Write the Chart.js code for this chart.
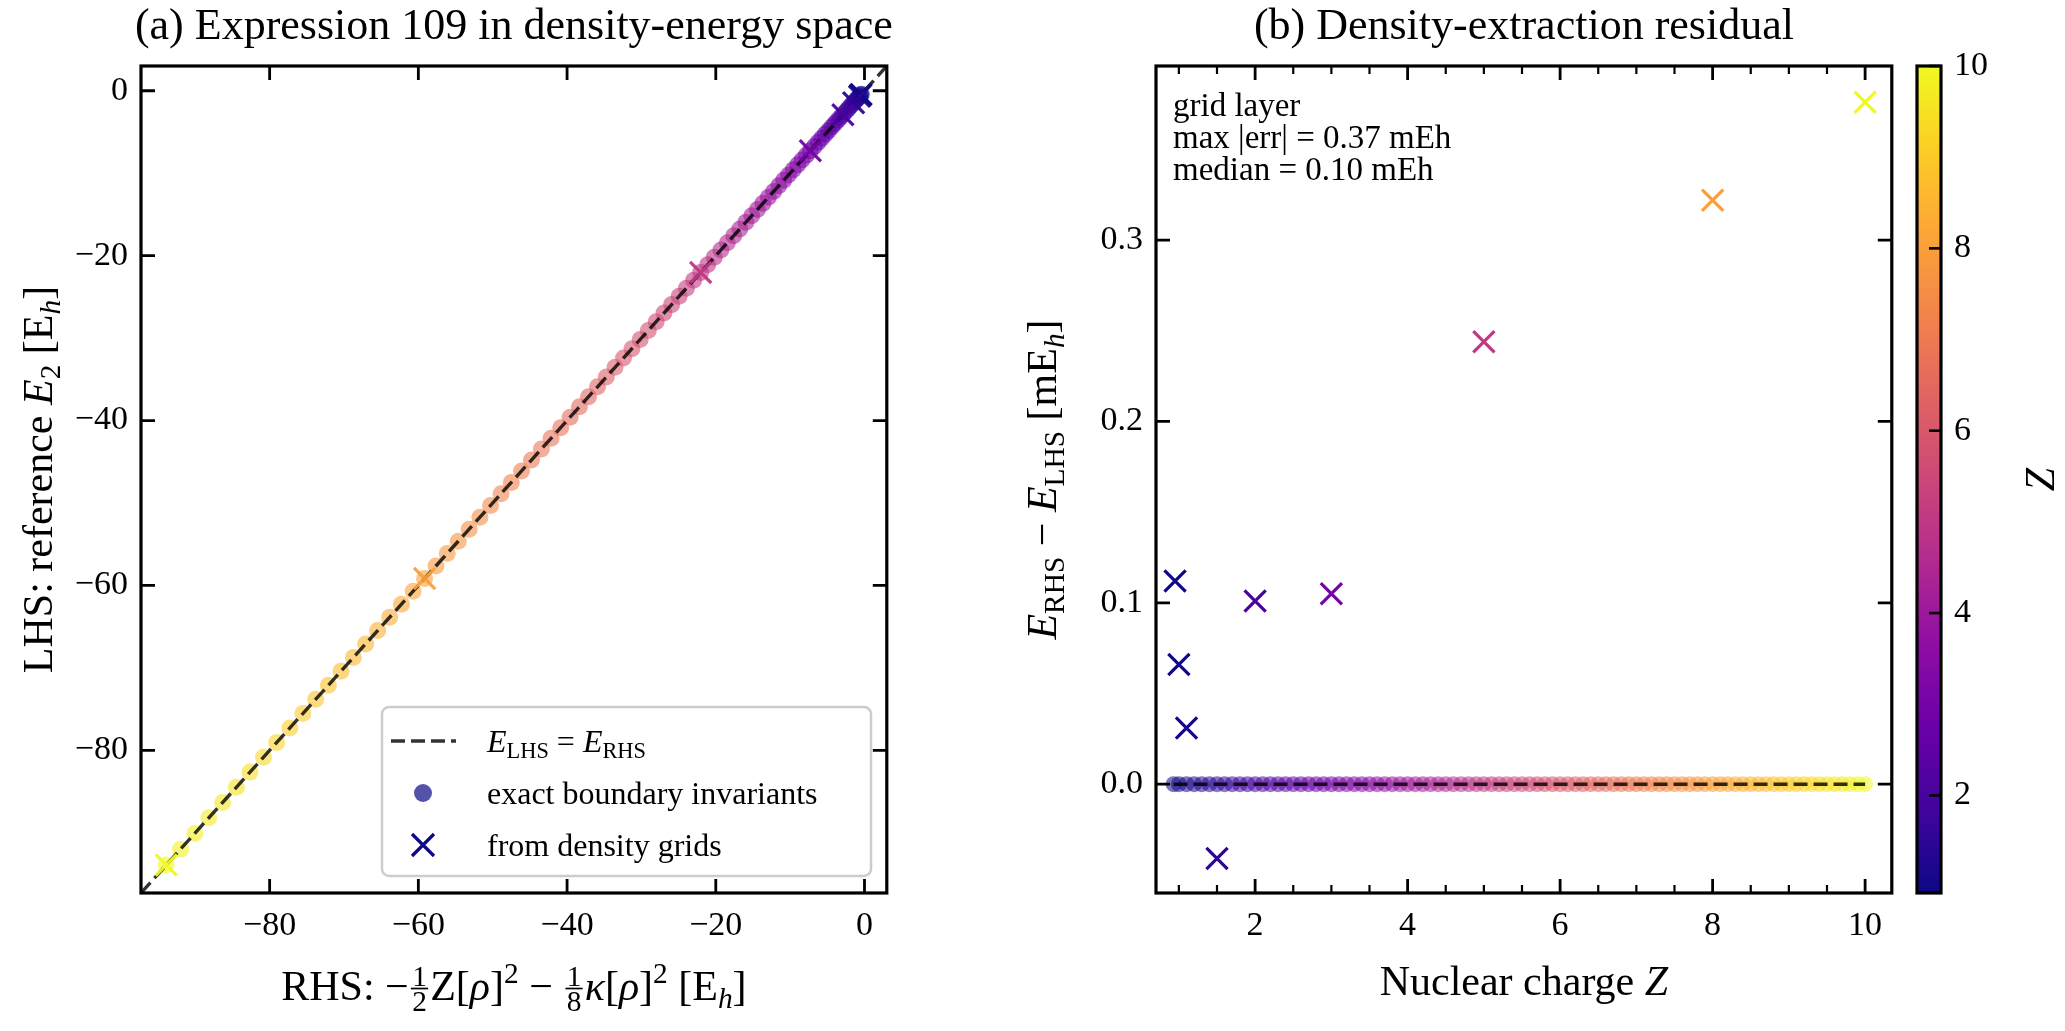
<!DOCTYPE html>
<html>
<head>
<meta charset="utf-8">
<script src="https://cdn.jsdelivr.net/npm/chart.js@4.4.1/dist/chart.umd.min.js"></script>
<style>
  html, body { margin: 0; padding: 0; background: #fff; }
  #wrap { position: relative; width: 2065px; height: 1031px; overflow: hidden; }
  #wrap canvas { position: absolute; top: 0; }
</style>
</head>
<body>
<div id="wrap">
  <canvas id="cA" width="905" height="1031" style="left:0px"></canvas>
  <canvas id="cB" width="1005" height="1031" style="left:905px"></canvas>
  <canvas id="cC" width="155" height="1031" style="left:1910px"></canvas>
</div>
<script>
// exact boundary invariants: nuclear charge and energy (Eh)
const exactZ = [0.93, 1.0, 1.1, 1.2, 1.3, 1.4, 1.5, 1.6, 1.7, 1.8, 1.9,
  2.0, 2.1, 2.2, 2.3, 2.4, 2.5, 2.6, 2.7, 2.8, 2.9,
  3.0, 3.1, 3.2, 3.3, 3.4, 3.5, 3.6, 3.7, 3.8, 3.9,
  4.0, 4.1, 4.2, 4.3, 4.4, 4.5, 4.6, 4.7, 4.8, 4.9,
  5.0, 5.1, 5.2, 5.3, 5.4, 5.5, 5.6, 5.7, 5.8, 5.9,
  6.0, 6.1, 6.2, 6.3, 6.4, 6.5, 6.6, 6.7, 6.8, 6.9,
  7.0, 7.1, 7.2, 7.3, 7.4, 7.5, 7.6, 7.7, 7.8, 7.9,
  8.0, 8.1, 8.2, 8.3, 8.4, 8.5, 8.6, 8.7, 8.8, 8.9,
  9.0, 9.1, 9.2, 9.3, 9.4, 9.5, 9.6, 9.7, 9.8, 9.9, 10.0];
const exactE = [-0.43, -0.53, -0.67, -0.84, -1.03, -1.24, -1.46, -1.71, -1.98, -2.27, -2.58,
  -2.90, -3.25, -3.62, -4.01, -4.41, -4.84, -5.29, -5.76, -6.24, -6.75,
  -7.28, -7.83, -8.40, -8.98, -9.59, -10.22, -10.87, -11.53, -12.22, -12.93,
  -13.66, -14.40, -15.17, -15.96, -16.77, -17.59, -18.44, -19.31, -20.20, -21.10,
  -22.03, -22.98, -23.95, -24.93, -25.94, -26.97, -28.02, -29.08, -30.17, -31.28,
  -32.41, -33.55, -34.72, -35.91, -37.12, -38.34, -39.59, -40.86, -42.15, -43.45,
  -44.78, -46.13, -47.50, -48.88, -50.29, -51.72, -53.17, -54.63, -56.12, -57.63,
  -59.16, -60.70, -62.27, -63.86, -65.47, -67.09, -68.74, -70.41, -72.10, -73.80,
  -75.53, -77.28, -79.05, -80.83, -82.64, -84.47, -86.32, -88.18, -90.07, -91.98, -93.91];

// density-grid points
const gridZ = [0.95, 1.0, 1.1, 1.5, 2, 3, 5, 8, 10];
const gridLHS = [-0.457, -0.528, -0.674, -1.465, -2.904, -7.280, -22.031, -59.157, -93.907];
const gridResid = [0.112, 0.066, 0.031, -0.041, 0.101, 0.105, 0.244, 0.322, 0.376]; // mEh

// axes
const energyTicks = [-80, -60, -40, -20, 0];
const energyRange = [-97.3, 3.0];
const zTicks = [2, 4, 6, 8, 10];
const zRange = [0.70, 10.35];
const residTicks = [0.0, 0.1, 0.2, 0.3];
const residRange = [-0.060, 0.396];
const cbarTicks = [2, 4, 6, 8, 10];
const cbarRange = [0.93, 10];

const SERIF = '"Liberation Serif", "Times New Roman", serif';
const PLASMA = ['#0d0887', '#41049d', '#6a00a8', '#8f0da4', '#b12a90', '#cc4778',
  '#e16462', '#f2844b', '#fca636', '#fcce25', '#f0f921'];
const FS = { title: 44, label: 42, tick: 34, legend: 32, note: 33 };

function hexRgb(h) {
  return [parseInt(h.slice(1, 3), 16), parseInt(h.slice(3, 5), 16), parseInt(h.slice(5, 7), 16)];
}
function plasma(z, alpha) {
  let t = (z - cbarRange[0]) / (cbarRange[1] - cbarRange[0]);
  t = Math.max(0, Math.min(1, t)) * (PLASMA.length - 1);
  const i = Math.min(Math.floor(t), PLASMA.length - 2), f = t - i;
  const a = hexRgb(PLASMA[i]), b = hexRgb(PLASMA[i + 1]);
  const c = a.map((v, k) => Math.round(v + (b[k] - v) * f));
  return 'rgba(' + c.join(',') + ',' + (alpha == null ? 1 : alpha) + ')';
}
const minus = v => String(v).replace('-', '\u2212');

// mathtext-ish rich text: segments {t, it, sub, sup, frac}
function segFont(size, s) {
  return (s.it ? 'italic ' : '') + size.toFixed(1) + 'px ' + SERIF;
}
function segWidth(ctx, s, size) {
  if (s.frac) {
    ctx.font = segFont(size * 0.7, {});
    return Math.max(ctx.measureText(s.frac[0]).width, ctx.measureText(s.frac[1]).width) + size * 0.16;
  }
  ctx.font = segFont(s.sub || s.sup ? size * 0.7 : size, s);
  return ctx.measureText(s.t).width;
}
function drawRich(ctx, segs, x, y, size, align, rot) {
  ctx.save();
  ctx.translate(x, y);
  if (rot) ctx.rotate(rot);
  ctx.fillStyle = '#000';
  ctx.strokeStyle = '#000';
  ctx.textAlign = 'left';
  ctx.textBaseline = 'alphabetic';
  const ws = segs.map(s => segWidth(ctx, s, size));
  const total = ws.reduce((a, b) => a + b, 0);
  let cx = align === 'left' ? 0 : -total / 2;
  const base = size * 0.33;
  segs.forEach((s, i) => {
    if (s.frac) {
      const bar = base - size * 0.27;
      ctx.font = segFont(size * 0.7, {});
      ctx.textAlign = 'center';
      ctx.fillText(s.frac[0], cx + ws[i] / 2, bar - size * 0.07);
      ctx.fillText(s.frac[1], cx + ws[i] / 2, bar + size * 0.07 + size * 0.7 * 0.68);
      ctx.textAlign = 'left';
      ctx.lineWidth = Math.max(1.2, size * 0.04);
      ctx.beginPath();
      ctx.moveTo(cx + size * 0.05, bar);
      ctx.lineTo(cx + ws[i] - size * 0.05, bar);
      ctx.stroke();
    } else if (s.sub) {
      ctx.font = segFont(size * 0.7, s);
      ctx.fillText(s.t, cx, base + size * 0.2);
    } else if (s.sup) {
      ctx.font = segFont(size * 0.7, s);
      ctx.fillText(s.t, cx, base - size * 0.4);
    } else {
      ctx.font = segFont(size, s);
      ctx.fillText(s.t, cx, base);
    }
    cx += ws[i];
  });
  ctx.restore();
}

// spines and inward ticks on all four sides
function framePlugin(xTicks, yTicks, xMinorStep) {
  return {
    id: 'frame',
    afterDatasetsDraw(chart) {
      const { ctx, chartArea: a, scales } = chart;
      ctx.save();
      ctx.strokeStyle = '#000';
      ctx.lineCap = 'butt';
      const tick = (p, len, horiz) => {
        ctx.beginPath();
        if (horiz) {
          ctx.moveTo(p, a.bottom); ctx.lineTo(p, a.bottom - len);
          ctx.moveTo(p, a.top); ctx.lineTo(p, a.top + len);
        } else {
          ctx.moveTo(a.left, p); ctx.lineTo(a.left + len, p);
          ctx.moveTo(a.right, p); ctx.lineTo(a.right - len, p);
        }
        ctx.stroke();
      };
      ctx.lineWidth = 2.8;
      xTicks.forEach(v => tick(scales.x.getPixelForValue(v), 14, true));
      yTicks.forEach(v => tick(scales.y.getPixelForValue(v), 14, false));
      if (xMinorStep) {
        ctx.lineWidth = 2.2;
        const lo = scales.x.min, hi = scales.x.max;
        for (let v = Math.ceil(lo / xMinorStep) * xMinorStep; v <= hi; v += xMinorStep) {
          if (xTicks.some(t => Math.abs(t - v) < 1e-6)) continue;
          tick(scales.x.getPixelForValue(v), 8, true);
        }
      }
      ctx.lineWidth = 3.2;
      ctx.strokeRect(a.left, a.top, a.right - a.left, a.bottom - a.top);
      ctx.restore();
    }
  };
}

function textPlugin(fn) {
  return { id: 'texts', afterDraw(chart) { fn(chart.ctx, chart); } };
}

function axisOpts(range, ticks, fmt, fit) {
  return {
    type: 'linear',
    min: range[0],
    max: range[1],
    grid: { display: false, drawTicks: false },
    border: { display: false },
    afterBuildTicks: s => { s.ticks = ticks.map(v => ({ value: v })); },
    afterFit: fit,
    ticks: {
      color: '#000',
      font: { family: SERIF, size: FS.tick },
      padding: 13,
      maxRotation: 0,
      callback: fmt
    }
  };
}

const DASH = { borderColor: 'rgba(0,0,0,0.8)', borderWidth: 3.4, borderDash: [14, 6] };
const common = {
  responsive: false,
  animation: false,
  devicePixelRatio: 1,
  events: [],
  plugins: { legend: { display: false }, tooltip: { enabled: false }, title: { display: false } }
};

// ---------- panel (a)
const gridRHS = gridLHS.map((v, i) => v + gridResid[i] / 1000);
new Chart(document.getElementById('cA'), {
  type: 'scatter',
  data: {
    datasets: [
      {
        order: 3,
        data: exactE.map(e => ({ x: e, y: e })),
        pointRadius: 8.5,
        pointBorderWidth: 0,
        pointBackgroundColor: exactZ.map(z => plasma(z, 0.6))
      },
      Object.assign({
        type: 'line', showLine: true, pointRadius: 0, order: 2,
        data: [{ x: energyRange[0], y: energyRange[0] }, { x: energyRange[1], y: energyRange[1] }]
      }, DASH),
      {
        order: 1,
        data: gridLHS.map((v, i) => ({ x: gridRHS[i], y: v })),
        pointStyle: 'crossRot',
        pointRadius: 15,
        pointBorderWidth: 3.2,
        pointBorderColor: gridZ.map(z => plasma(z, 0.95))
      }
    ]
  },
  options: Object.assign({}, common, {
    layout: { padding: { top: 66, right: 12, left: 0, bottom: 0 } },
    scales: {
      x: axisOpts(energyRange, energyTicks, v => minus(v), s => { s.height = 1031 - 893; }),
      y: axisOpts(energyRange, energyTicks, v => minus(v), s => { s.width = 141; })
    }
  }),
  plugins: [
    framePlugin(energyTicks, energyTicks, 0),
    textPlugin((ctx, chart) => {
      const a = chart.chartArea;
      drawRich(ctx, [{ t: '(a) Expression 109 in density-energy space' }], (a.left + a.right) / 2, 24, FS.title);
      drawRich(ctx, [
        { t: 'RHS: \u2212' }, { frac: ['1', '2'] }, { t: 'Z[' }, { t: '\u03c1', it: 1 }, { t: ']' }, { t: '2', sup: 1 },
        { t: ' \u2212 ' }, { frac: ['1', '8'] }, { t: '\u03ba', it: 1 }, { t: '[' }, { t: '\u03c1', it: 1 }, { t: ']' },
        { t: '2', sup: 1 }, { t: ' [E' }, { t: 'h', sub: 1, it: 1 }, { t: ']' }
      ], (a.left + a.right) / 2, 986, FS.label);
      drawRich(ctx, [
        { t: 'LHS: reference ' }, { t: 'E', it: 1 }, { t: '2', sub: 1 }, { t: ' [E' }, { t: 'h', sub: 1, it: 1 }, { t: ']' }
      ], 38, (a.top + a.bottom) / 2, FS.label, 'center', -Math.PI / 2);

      // legend box
      const L = { x: 382, y: 707, w: 489, h: 169 };
      ctx.save();
      ctx.fillStyle = 'rgba(255,255,255,0.8)';
      ctx.strokeStyle = '#cccccc';
      ctx.lineWidth = 2.5;
      ctx.beginPath();
      ctx.roundRect(L.x, L.y, L.w, L.h, 7);
      ctx.fill();
      ctx.stroke();
      // dashed line sample
      ctx.strokeStyle = DASH.borderColor;
      ctx.lineWidth = DASH.borderWidth;
      ctx.setLineDash(DASH.borderDash);
      ctx.beginPath();
      ctx.moveTo(391, 741); ctx.lineTo(456, 741);
      ctx.stroke();
      ctx.setLineDash([]);
      // circle sample
      ctx.fillStyle = plasma(cbarRange[0], 0.7);
      ctx.beginPath();
      ctx.arc(423, 793, 9, 0, Math.PI * 2);
      ctx.fill();
      // cross sample
      ctx.strokeStyle = plasma(cbarRange[0], 1);
      ctx.lineWidth = 3.2;
      ctx.beginPath();
      ctx.moveTo(412, 834); ctx.lineTo(434, 856);
      ctx.moveTo(434, 834); ctx.lineTo(412, 856);
      ctx.stroke();
      ctx.restore();
      drawRich(ctx, [{ t: 'E', it: 1 }, { t: 'LHS', sub: 1 }, { t: ' = ' }, { t: 'E', it: 1 }, { t: 'RHS', sub: 1 }], 487, 741, FS.legend, 'left');
      drawRich(ctx, [{ t: 'exact boundary invariants' }], 487, 793, FS.legend, 'left');
      drawRich(ctx, [{ t: 'from density grids' }], 487, 845, FS.legend, 'left');
    })
  ]
});

// ---------- panel (b)
new Chart(document.getElementById('cB'), {
  type: 'scatter',
  data: {
    datasets: [
      {
        order: 3,
        data: exactZ.map(z => ({ x: z, y: 0 })),
        pointRadius: 8,
        pointBorderWidth: 0,
        pointBackgroundColor: exactZ.map(z => plasma(z, 0.55))
      },
      Object.assign({
        type: 'line', showLine: true, pointRadius: 0, order: 2,
        data: [{ x: exactZ[0], y: 0 }, { x: exactZ[exactZ.length - 1], y: 0 }]
      }, DASH),
      {
        order: 1,
        data: gridZ.map((z, i) => ({ x: z, y: gridResid[i] })),
        pointStyle: 'crossRot',
        pointRadius: 15,
        pointBorderWidth: 3.2,
        pointBorderColor: gridZ.map(z => plasma(z, 1))
      }
    ]
  },
  options: Object.assign({}, common, {
    layout: { padding: { top: 66, right: 17, left: 0, bottom: 0 } },
    scales: {
      x: axisOpts(zRange, zTicks, v => String(v), s => { s.height = 1031 - 893; }),
      y: axisOpts(residRange, residTicks, v => minus(v.toFixed(1)), s => { s.width = 251; })
    }
  }),
  plugins: [
    framePlugin(zTicks, residTicks, 0.5),
    textPlugin((ctx, chart) => {
      const a = chart.chartArea;
      drawRich(ctx, [{ t: '(b) Density-extraction residual' }], (a.left + a.right) / 2, 24, FS.title);
      drawRich(ctx, [{ t: 'Nuclear charge ' }, { t: 'Z', it: 1 }], (a.left + a.right) / 2, 981, FS.label);
      drawRich(ctx, [
        { t: 'E', it: 1 }, { t: 'RHS', sub: 1 }, { t: ' \u2212 ' }, { t: 'E', it: 1 }, { t: 'LHS', sub: 1 },
        { t: ' [mE' }, { t: 'h', sub: 1, it: 1 }, { t: ']' }
      ], 137, (a.top + a.bottom) / 2, FS.label, 'center', -Math.PI / 2);
      const lines = ['grid layer', 'max |err| = 0.37 mEh', 'median = 0.10 mEh'];
      lines.forEach((t, i) => drawRich(ctx, [{ t }], a.left + 17, 105 + i * 32, FS.note, 'left'));
    })
  ]
});

// ---------- colorbar
new Chart(document.getElementById('cC'), {
  type: 'scatter',
  data: { datasets: [] },
  options: Object.assign({}, common, {
    layout: { padding: { top: 66, right: 0, left: 7, bottom: 138 } },
    scales: {
      x: { display: false, min: 0, max: 1 },
      y: Object.assign(axisOpts(cbarRange, cbarTicks, v => String(v), s => { s.width = 124; }), { position: 'right' })
    }
  }),
  plugins: [{
    id: 'cbar',
    beforeDatasetsDraw(chart) {
      const { ctx, chartArea: a, scales } = chart;
      const g = ctx.createLinearGradient(0, a.bottom, 0, a.top);
      PLASMA.forEach((c, i) => g.addColorStop(i / (PLASMA.length - 1), c));
      ctx.save();
      ctx.fillStyle = g;
      ctx.fillRect(a.left, a.top, a.right - a.left, a.bottom - a.top);
      ctx.strokeStyle = '#000';
      ctx.lineWidth = 2.6;
      cbarTicks.forEach(v => {
        const p = scales.y.getPixelForValue(v);
        ctx.beginPath(); ctx.moveTo(a.right, p); ctx.lineTo(a.right - 12, p); ctx.stroke();
      });
      ctx.lineWidth = 3.2;
      ctx.strokeRect(a.left, a.top, a.right - a.left, a.bottom - a.top);
      ctx.restore();
    },
    afterDraw(chart) {
      const a = chart.chartArea;
      drawRich(chart.ctx, [{ t: 'Z', it: 1 }], 130, (a.top + a.bottom) / 2, FS.label, 'center', -Math.PI / 2);
    }
  }]
});
</script>
</body>
</html>
